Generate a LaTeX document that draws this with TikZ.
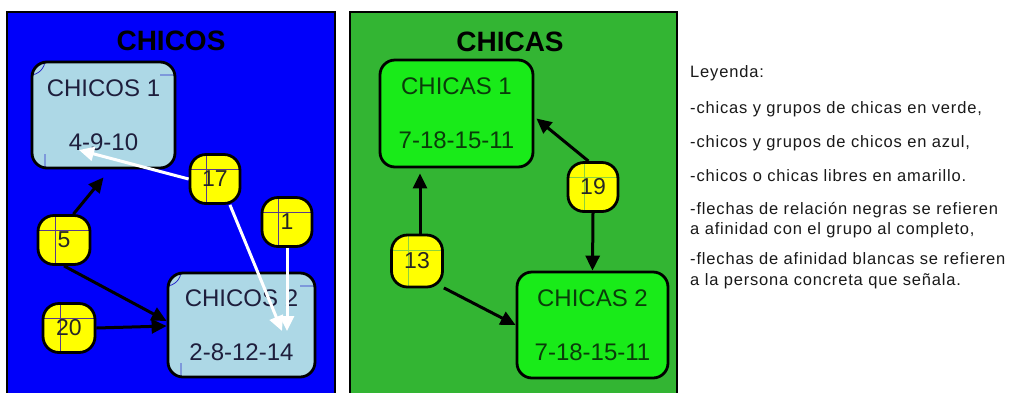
\documentclass[tikz,border=0pt]{standalone}
\usepackage{fontspec}
\setmainfont{Liberation Sans}
\newfontfamily\legfont[LetterSpace=5]{Liberation Sans}
\usetikzlibrary{arrows.meta,calc}
\definecolor{bluebg}{RGB}{0,0,250}
\definecolor{greenbg}{RGB}{51,181,51}
\definecolor{lblue}{RGB}{173,216,230}
\definecolor{lgreen}{RGB}{25,235,25}
\definecolor{ylw}{RGB}{255,255,0}
\definecolor{btext}{RGB}{30,30,60}
\definecolor{gtext}{RGB}{10,60,10}
\definecolor{btick}{RGB}{40,40,200}
\definecolor{ytickB}{RGB}{90,60,140}
\definecolor{ytickG}{RGB}{140,210,60}
\tikzset{
  panel/.style={draw=black,line width=2.5pt},
  title/.style={font=\fontsize{28}{30}\selectfont\bfseries,text=black},
  grp/.style={draw=black,line width=2.8pt,rounded corners=15pt,align=center,
    inner sep=0pt,font=\fontsize{24}{54}\selectfont},
  bgrp/.style={grp,fill=lblue,text=btext,path picture={
    \coordinate (ppnw) at (path picture bounding box.north west);
    \coordinate (ppse) at (path picture bounding box.south east);
    \draw[btick,line width=0.8pt] ([yshift=-13pt]ppnw) -- ++(13pt,0) -- ([xshift=13pt]ppnw)
      ([yshift=-13pt]ppnw -| ppse) -- ++(-15pt,0)
      ([xshift=13pt,yshift=14pt]ppnw |- ppse) -- ([xshift=13pt]ppnw |- ppse);}},
  ggrp/.style={grp,fill=lgreen,text=gtext},
  pers/.style={draw=black,line width=2.8pt,fill=ylw,rounded corners=16pt,inner sep=0pt,
    minimum width=50pt,minimum height=49pt,font=\fontsize{23}{26}\selectfont,text=black!85},
  ticks/.style={path picture={
    \coordinate (ppnw) at (path picture bounding box.north west);
    \coordinate (ppse) at (path picture bounding box.south east);
    \draw[#1,line width=0.8pt] ($(ppnw)!0.33!(ppnw -| ppse)$) -- ($(ppnw |- ppse)!0.33!(ppse)$)
      ($(ppnw)!0.3!(ppnw |- ppse)$) -- ($(ppnw -| ppse)!0.3!(ppse)$);}},
  bpers/.style={pers,ticks=ytickB},
  gpers/.style={pers,ticks=ytickG},
  blk/.style={draw=black,line width=3pt,-{Triangle[length=15pt,width=14pt]}},
  wht/.style={draw=white,line width=3pt,-{Triangle[length=15pt,width=14pt]}},
  leg/.style={anchor=base west,inner sep=0pt,text=black!90,font=\legfont\fontsize{16.5}{20}\selectfont}
}
\begin{document}
\begin{tikzpicture}[x=1pt,y=-1pt]
\useasboundingbox (0,0) rectangle (1028,392);
\clip (0,0) rectangle (1028,392);
\fill[white] (0,0) rectangle (1028,392);
% panels
\draw[panel,fill=bluebg] (7,12) rectangle (335,410);
\draw[panel,fill=greenbg] (350,12) rectangle (677,410);
\node[title] (tB) at (171,41) {CHICOS};
\node[title] (tG) at (510,42) {CHICAS};
% boys
\node[bgrp,minimum width=143pt,minimum height=106pt] (c1) at (103.5,115) {CHICOS 1\\4-9-10};
\node[bgrp,minimum width=147pt,minimum height=104pt] (c2) at (241.5,325) {CHICOS 2\\2-8-12-14};
\node[bpers] (n17) at (215,179) {17};
\node[bpers] (n1) at (287,222) {1};
\node[bpers,minimum width=52pt] (n5) at (64,240) {5};
\node[bpers,minimum width=52pt] (n20) at (69,328) {20};
% girls
\node[ggrp,minimum width=153pt,minimum height=107pt] (g1) at (456.5,113.5) {CHICAS 1\\7-18-15-11};
\node[ggrp,minimum width=151pt,minimum height=106pt] (g2) at (592.5,325) {CHICAS 2\\7-18-15-11};
\node[gpers] (n19) at (593,187) {19};
\node[gpers,minimum width=51pt,minimum height=52pt] (n13) at (417,261) {13};
% arrow end points
\coordinate (w1) at (79,150);
\coordinate (w2) at (282,331);
\coordinate (w3) at (287,331);
% boys arrows
\draw[blk] (n5.70) -- ([yshift=-8pt]c1.south);
\draw[blk] (n5.south) -- ([yshift=4pt]c2.west);
\draw[blk] (n20.east) -- ([yshift=-1pt]c2.west);
\draw[wht] (n17.west) -- (w1);
\draw[wht] (n17.-60) -- (w2);
\draw[wht] (n1.south) -- (w3);
% girls arrows
\draw[blk] (n19.100) -- ([xshift=2pt,yshift=-5pt]g1.east);
\draw[blk] (n19.south) -- (g2.north);
\draw[blk] ([xshift=3pt]n13.north) -- ([xshift=3pt,yshift=-5pt]n13.north |- g1.south);
\draw[blk] (n13.-45) -- (g2.west);
% legend
\node[leg] (l1) at (690,77) {Leyenda:};
\node[leg] (l2) at (690,113) {-chicas y grupos de chicas en verde,};
\node[leg] (l3) at (690,147) {-chicos y grupos de chicos en azul,};
\node[leg] (l4) at (690,181) {-chicos o chicas libres en amarillo.};
\node[leg] (l5) at (690,214) {-flechas de relación negras se refieren};
\node[leg] (l6) at (690,234) {a afinidad con el grupo al completo,};
\node[leg] (l7) at (690,264) {-flechas de afinidad blancas se refieren};
\node[leg] (l8) at (690,285) {a la persona concreta que señala.};
\end{tikzpicture}
\end{document}
